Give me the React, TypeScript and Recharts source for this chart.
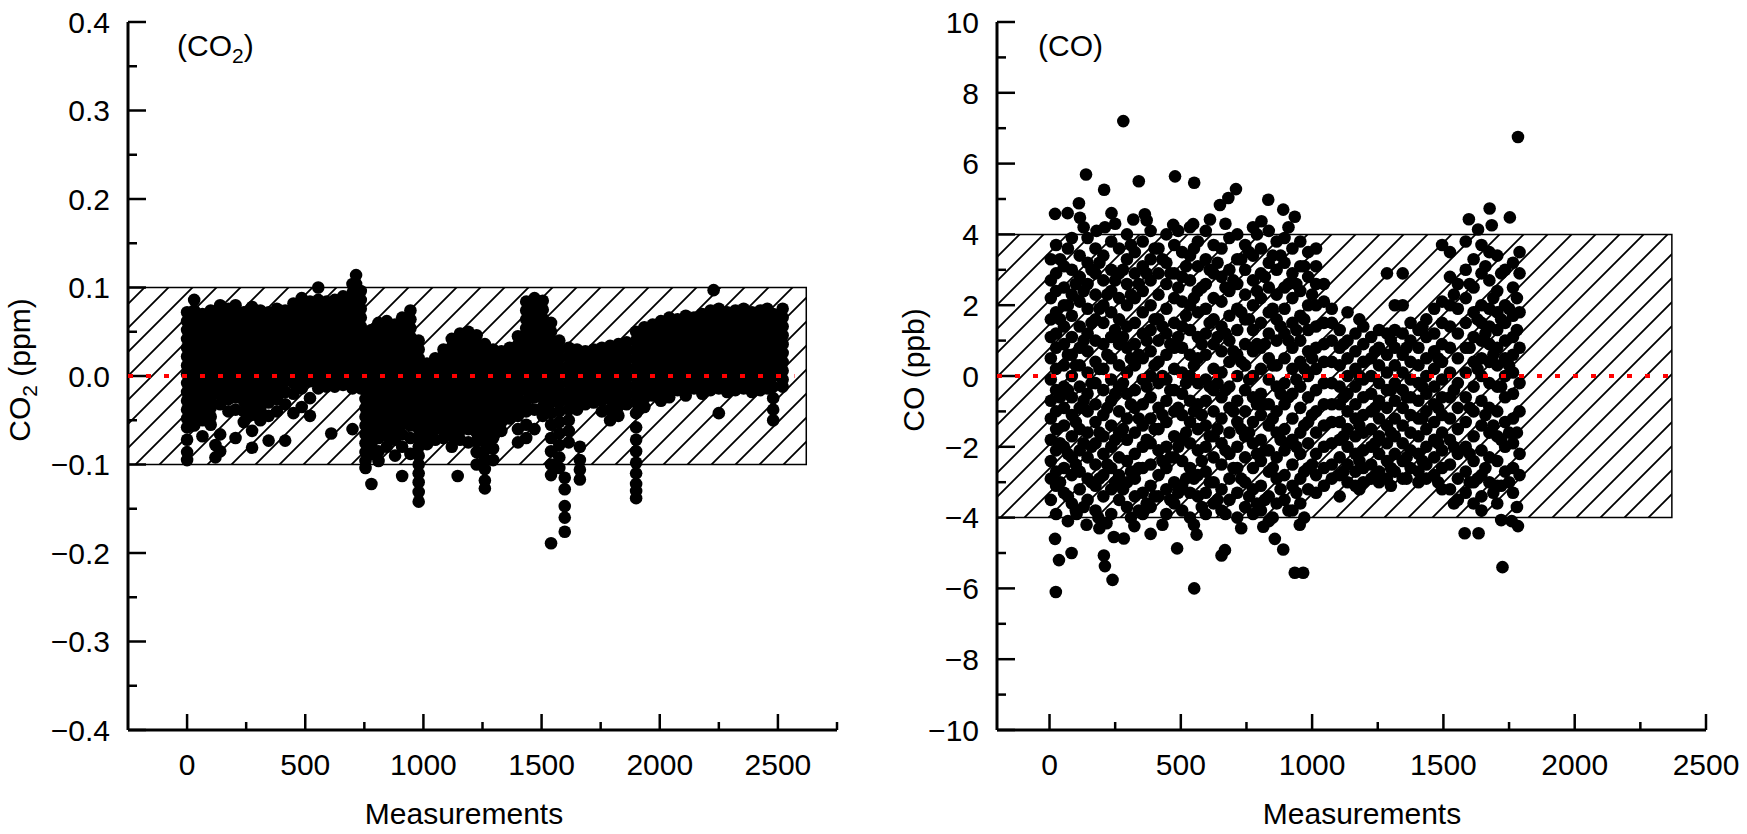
import React from 'react';
import { ScatterChart, Scatter, XAxis, YAxis, ReferenceArea } from 'recharts';

const FONT = '"Liberation Sans", Arial, Helvetica, sans-serif';
const FS = 30;

// CO2 panel: [measurement, deviations in 0.001 ppm]
const co2Columns: [number, number[]][] = [
  [0, [72, 62, 52, 42, 32, 22, 12, 2, -8, -18, -28, -38, -48, -58, -72, -86, -95]],
  [30, [86, 74, 64, 54, 44, 34, 24, 14, 4, -6, -16, -26, -36, -46, -56]],
  [65, [70, 60, 50, 40, 30, 20, 10, 0, -10, -20, -30, -40, -50, -68]],
  [100, [74, 64, 54, 44, 34, 24, 14, 4, -6, -16, -26, -36, -46, -55]],
  [120, [-78, -92]],
  [140, [80, 70, 60, 50, 40, 30, 20, 10, 0, -10, -20, -32, -66, -85]],
  [175, [76, 66, 56, 46, 36, 26, 16, 6, -4, -14, -26, -40]],
  [205, [80, 70, 60, 50, 40, 30, 20, 10, 0, -12, -24, -38, -70]],
  [240, [72, 62, 52, 42, 32, 22, 12, 2, -8, -18, -28, -40, -52]],
  [275, [78, 68, 58, 48, 38, 28, 18, 8, -2, -12, -22, -32, -44, -62, -81]],
  [310, [74, 64, 54, 44, 34, 24, 14, 4, -6, -16, -26, -38, -50]],
  [345, [72, 62, 52, 42, 32, 22, 12, 2, -8, -18, -30, -45, -73]],
  [380, [76, 66, 56, 46, 36, 26, 16, 6, -4, -14, -26, -40]],
  [415, [74, 64, 54, 44, 34, 24, 14, 4, -6, -18, -32, -73]],
  [450, [82, 72, 62, 52, 42, 32, 22, 12, 2, -8, -20, -42]],
  [485, [88, 78, 68, 58, 48, 38, 28, 18, 8, -2, -14, -35]],
  [520, [84, 74, 64, 54, 44, 34, 24, 14, 4, -6, -25, -45]],
  [555, [100, 86, 76, 66, 56, 46, 36, 26, 16, 6, -4, -14]],
  [590, [84, 74, 64, 54, 44, 34, 24, 14, 4, -6, -12]],
  [610, [-65]],
  [625, [86, 76, 66, 56, 46, 36, 26, 16, 6, -4, -12]],
  [660, [90, 80, 70, 60, 50, 40, 30, 20, 10, 0, -10]],
  [700, [104, 94, 84, 74, 64, 54, 44, 34, 24, 14, 4, -6, -14, -60]],
  [715, [114, 104, 94, 84, 74, 64, 54, 44, 34, 24, 14, 4, -8]],
  [735, [96, 86, 76, 66, 56, 46, 36, 26, 16, 6, -4, -14]],
  [755, [44, 34, 24, 14, 4, -6, -16, -26, -36, -46, -56, -66, -76, -86, -96, -104]],
  [780, [52, 42, 32, 22, 12, 2, -8, -18, -28, -38, -48, -58, -68, -78, -88, -122]],
  [810, [60, 50, 40, 30, 20, 10, 0, -10, -20, -30, -40, -50, -60, -70, -85, -96]],
  [845, [62, 52, 42, 32, 22, 12, 2, -8, -18, -28, -38, -48, -58, -68, -80]],
  [880, [58, 48, 38, 28, 18, 8, -2, -12, -22, -32, -42, -52, -62, -72, -90]],
  [910, [66, 56, 46, 36, 26, 16, 6, -4, -14, -24, -34, -44, -54, -66, -80, -113]],
  [945, [74, 64, 54, 44, 34, 24, 14, 4, -6, -16, -26, -36, -46, -56, -70, -88]],
  [980, [40, 30, 20, 10, 0, -10, -20, -30, -40, -50, -60, -70, -80, -90, -100, -110, -120, -131, -142]],
  [1015, [14, 4, -6, -16, -26, -36, -46, -56, -66, -77]],
  [1050, [20, 10, 0, -10, -20, -30, -40, -50, -60, -72]],
  [1085, [30, 20, 10, 0, -10, -20, -30, -40, -50, -60, -70]],
  [1120, [42, 32, 22, 12, 2, -8, -18, -28, -38, -48, -58, -68, -80]],
  [1145, [-113]],
  [1155, [48, 38, 28, 18, 8, -2, -12, -22, -32, -42, -52, -62, -72]],
  [1190, [50, 40, 30, 20, 10, 0, -10, -20, -30, -40, -50, -60, -75]],
  [1225, [46, 36, 26, 16, 6, -4, -14, -24, -34, -44, -54, -64, -74, -86, -100]],
  [1260, [36, 26, 16, 6, -4, -14, -24, -34, -44, -54, -64, -74, -84, -94, -105, -118, -127]],
  [1295, [30, 20, 10, 0, -10, -20, -30, -40, -50, -60, -70, -82, -95]],
  [1330, [28, 18, 8, -2, -12, -22, -32, -42, -52, -62]],
  [1365, [32, 22, 12, 2, -8, -18, -28, -38, -48]],
  [1400, [45, 35, 25, 15, 5, -5, -15, -25, -35, -45, -60, -75]],
  [1435, [84, 74, 64, 54, 44, 34, 24, 14, 4, -6, -16, -28, -40, -55, -70]],
  [1470, [88, 78, 68, 58, 48, 38, 28, 18, 8, -2, -12, -24, -38, -60]],
  [1505, [85, 75, 65, 55, 45, 35, 25, 15, 5, -5, -15, -25, -35, -45]],
  [1540, [60, 50, 40, 30, 20, 10, 0, -10, -20, -30, -42, -55, -70, -85, -100, -112, -189]],
  [1575, [40, 30, 20, 10, 0, -10, -20, -30, -40, -52, -65, -78, -92, -104]],
  [1598, [-115, -128, -147, -160, -176]],
  [1615, [32, 22, 12, 2, -8, -18, -28, -38, -50, -62, -75]],
  [1650, [30, 20, 10, 0, -10, -20, -30, -38]],
  [1662, [-80, -95, -106, -117]],
  [1685, [28, 18, 8, -2, -12, -22, -32]],
  [1720, [30, 20, 10, 0, -10, -20, -30]],
  [1755, [32, 22, 12, 2, -8, -18, -28, -40]],
  [1790, [34, 24, 14, 4, -6, -16, -26, -38, -50]],
  [1825, [36, 26, 16, 6, -4, -14, -24, -34, -45]],
  [1860, [38, 28, 18, 8, -2, -12, -22, -32]],
  [1900, [50, 40, 30, 20, 10, 0, -10, -20, -30, -42, -58, -72, -85, -98, -110, -122, -130, -138]],
  [1935, [55, 45, 35, 25, 15, 5, -5, -15, -25, -35]],
  [1970, [58, 48, 38, 28, 18, 8, -2, -12, -22]],
  [2005, [62, 52, 42, 32, 22, 12, 2, -8, -18, -28]],
  [2040, [66, 56, 46, 36, 26, 16, 6, -4, -14, -24]],
  [2075, [64, 54, 44, 34, 24, 14, 4, -6, -16]],
  [2110, [68, 58, 48, 38, 28, 18, 8, -2, -12, -22]],
  [2145, [66, 56, 46, 36, 26, 16, 6, -4, -14]],
  [2180, [70, 60, 50, 40, 30, 20, 10, 0, -10, -20]],
  [2215, [74, 64, 54, 44, 34, 24, 14, 4, -6, -16]],
  [2228, [97]],
  [2250, [76, 66, 56, 46, 36, 26, 16, 6, -4, -14, -42]],
  [2285, [72, 62, 52, 42, 32, 22, 12, 2, -8, -18]],
  [2320, [74, 64, 54, 44, 34, 24, 14, 4, -6, -16]],
  [2355, [76, 66, 56, 46, 36, 26, 16, 6, -4, -14]],
  [2390, [72, 62, 52, 42, 32, 22, 12, 2, -8, -18]],
  [2425, [74, 64, 54, 44, 34, 24, 14, 4, -6, -16]],
  [2455, [76, 66, 56, 46, 36, 26, 16, 6, -4, -14]],
  [2480, [70, 60, 50, 40, 30, 20, 10, 0, -12, -25, -38, -50]],
  [2520, [76, 66, 56, 46, 36, 26, 16, 6, -4, -12]],
];

// CO panel: [measurement, deviations in ppb]
const coColumns: [number, number[]][] = [
  [5, [3.3, 2.7, 2.2, 1.6, 1.1, 0.5, -0.1, -0.7, -1.2, -1.8, -2.4, -2.9, -3.5]],
  [25, [3.7, 2.9, 2.4, 1.8, 1.2, 0.8, 0.2, -0.4, -1.0, -1.5, -2.1, -2.7, -3.1, -3.9]],
  [40, [3.3, 1.6, -0.6, -1.9, -3.0]],
  [55, [3.1, 2.5, 2.0, 1.4, 0.9, 0.3, -0.3, -0.9, -1.4, -2.0, -2.6, -3.3]],
  [70, [3.6, 2.0, 0.6, -0.4, -2.2, -3.4, -4.1]],
  [85, [3.9, 3.0, 2.3, 1.7, 1.1, 0.6, 0.0, -0.6, -1.1, -1.7, -2.3, -2.8, -3.6]],
  [100, [2.6, 0.3, -1.3, -2.5, -3.8]],
  [115, [3.4, 2.8, 2.1, 1.4, 0.8, 0.3, -0.3, -0.9, -1.5, -2.1, -2.7, -3.2]],
  [130, [4.2, 2.4, 1.0, -0.7, -1.9, -3.7]],
  [145, [3.9, 3.2, 2.6, 1.9, 1.2, 0.7, 0.1, -0.5, -1.0, -1.6, -2.3, -2.9, -3.5]],
  [160, [3.0, 1.5, -0.2, -2.0, -3.0]],
  [175, [3.6, 2.9, 2.3, 1.6, 1.0, 0.4, -0.2, -0.8, -1.3, -1.9, -2.5, -3.1, -3.8]],
  [190, [3.2, 1.9, 0.2, -1.6, -2.9, -4.3]],
  [205, [3.4, 2.7, 2.0, 1.5, 0.9, 0.2, -0.4, -1.1, -1.7, -2.2, -2.8, -3.4]],
  [220, [2.3, 0.6, -0.9, -2.5]],
  [235, [3.8, 3.0, 2.4, 1.8, 1.1, 0.5, -0.1, -0.7, -1.4, -2.0, -2.6, -3.2, -3.9]],
  [250, [4.3, 2.7, 1.3, -0.5, -1.8, -3.0]],
  [265, [3.6, 2.9, 2.2, 1.6, 0.9, 0.3, -0.3, -1.0, -1.6, -2.3, -2.8, -3.5]],
  [280, [3.0, 1.1, -0.2, -1.5, -3.2]],
  [295, [4.0, 3.3, 2.6, 2.0, 1.4, 0.8, 0.1, -0.5, -1.2, -1.8, -2.4, -3.0, -3.7]],
  [310, [3.7, 2.3, 0.5, -0.8, -2.7, -4.0]],
  [325, [3.5, 2.9, 2.2, 1.5, 0.9, 0.3, -0.4, -0.9, -1.6, -2.2, -2.9, -3.4]],
  [340, [2.6, 0.6, -1.2, -2.6, -3.8]],
  [355, [3.8, 3.1, 2.4, 1.8, 1.2, 0.5, -0.1, -0.8, -1.4, -2.0, -2.6, -3.3, -3.9]],
  [370, [4.4, 2.9, 1.0, -0.3, -1.8, -3.6]],
  [385, [4.1, 3.3, 2.7, 2.0, 1.3, 0.7, 0.0, -0.6, -1.2, -1.9, -2.5, -3.1, -3.7]],
  [400, [3.6, 1.6, 0.3, -1.5, -3.4]],
  [415, [3.6, 2.9, 2.3, 1.6, 1.0, 0.4, -0.2, -0.9, -1.5, -2.1, -2.8, -3.4]],
  [430, [3.3, 1.4, 0.0, -1.1, -2.4, -4.2]],
  [445, [4.0, 3.2, 2.6, 1.9, 1.2, 0.6, -0.1, -0.7, -1.3, -2.0, -2.6, -3.2, -3.9]],
  [460, [2.9, 0.9, -0.4, -2.3, -3.5]],
  [475, [3.7, 2.9, 2.2, 1.5, 0.8, 0.2, -0.4, -1.0, -1.7, -2.3, -3.0, -3.6]],
  [490, [4.1, 2.5, 1.1, -0.9, -2.0, -3.3]],
  [505, [3.5, 2.8, 2.1, 1.4, 0.8, 0.1, -0.5, -1.1, -1.8, -2.4, -3.1, -3.8]],
  [520, [3.1, 1.7, -0.2, -1.6, -2.9]],
  [535, [4.2, 3.4, 2.7, 2.0, 1.3, 0.6, 0.0, -0.7, -1.3, -1.9, -2.6, -3.3, -4.0]],
  [550, [3.6, 2.2, 0.3, -1.0, -2.9, -4.2]],
  [565, [3.8, 3.1, 2.4, 1.8, 1.1, 0.5, -0.2, -0.8, -1.5, -2.1, -2.8, -3.4]],
  [580, [2.5, 0.9, -1.1, -2.4, -3.7]],
  [595, [4.1, 3.3, 2.6, 1.9, 1.2, 0.6, -0.1, -0.7, -1.4, -2.0, -2.7, -3.3, -3.9]],
  [610, [3.0, 1.5, -0.3, -1.7, -3.0]],
  [625, [3.7, 2.9, 2.2, 1.6, 0.9, 0.2, -0.4, -1.0, -1.7, -2.3, -3.0, -3.6]],
  [640, [3.2, 1.1, -0.2, -1.5, -3.5]],
  [655, [3.6, 2.8, 2.1, 1.4, 0.7, 0.1, -0.6, -1.2, -1.9, -2.5, -3.2, -3.8]],
  [670, [4.3, 2.5, 1.2, -0.4, -2.1, -3.9]],
  [685, [3.9, 3.0, 2.4, 1.7, 1.0, 0.4, -0.3, -0.9, -1.6, -2.2, -2.9, -3.5]],
  [700, [2.7, 0.7, -1.0, -2.6]],
  [715, [4.0, 3.3, 2.6, 1.9, 1.3, 0.6, 0.0, -0.7, -1.3, -2.0, -2.6, -3.3, -4.0]],
  [730, [3.3, 1.8, 0.4, -1.5, -2.9, -4.3]],
  [745, [3.7, 3.0, 2.3, 1.6, 0.9, 0.3, -0.4, -1.0, -1.7, -2.3, -3.0, -3.7]],
  [760, [3.5, 1.6, -0.1, -1.6, -3.4]],
  [775, [4.2, 3.4, 2.7, 2.0, 1.3, 0.7, 0.0, -0.6, -1.3, -1.9, -2.6, -3.2, -3.9]],
  [790, [4.0, 2.4, 0.9, -0.8, -2.2, -3.6]],
  [805, [3.6, 2.9, 2.2, 1.5, 0.8, 0.2, -0.5, -1.1, -1.8, -2.4, -3.1, -3.8]],
  [820, [2.8, 0.9, -0.8, -2.1, -3.5]],
  [835, [4.1, 3.2, 2.5, 1.8, 1.2, 0.5, -0.1, -0.8, -1.4, -2.1, -2.7, -3.4, -4.1]],
  [850, [3.4, 1.9, 0.3, -1.2, -2.6, -4.0]],
  [865, [3.8, 3.0, 2.3, 1.6, 1.0, 0.3, -0.3, -1.0, -1.6, -2.3, -2.9, -3.6]],
  [880, [3.4, 1.4, -0.5, -1.8, -3.2]],
  [895, [3.9, 3.2, 2.5, 1.9, 1.2, 0.5, -0.2, -0.8, -1.5, -2.1, -2.8, -3.5]],
  [910, [4.2, 2.6, 1.0, -0.6, -1.9, -3.8]],
  [925, [3.6, 2.9, 2.2, 1.5, 0.8, 0.2, -0.5, -1.2, -1.8, -2.5, -3.1, -3.8]],
  [940, [2.6, 1.3, -0.1, -2.0, -3.3]],
  [955, [3.8, 3.1, 2.4, 1.7, 1.0, 0.4, -0.3, -0.9, -1.6, -2.2, -2.9, -3.6]],
  [970, [3.1, 1.6, 0.2, -1.4, -2.7, -4.0]],
  [985, [3.5, 2.8, 2.0, 1.3, 0.7, 0.0, -0.6, -1.3, -1.9, -2.6, -3.2]],
  [1000, [2.3, 0.5, -1.1, -2.5]],
  [1015, [3.6, 3.1, 2.6, 2.0, 1.4, 0.8, 0.2, -0.4, -1.0, -1.6, -2.2, -2.8, -3.3]],
  [1045, [2.6, 2.1, 1.5, 0.9, 0.4, -0.2, -0.8, -1.4, -2.0, -2.6, -3.1]],
  [1075, [1.9, 1.5, 1.0, 0.4, -0.2, -0.8, -1.3, -1.9, -2.5, -2.9]],
  [1105, [1.3, 0.8, 0.3, -0.3, -0.8, -1.3, -1.8, -2.3, -2.8, -3.4]],
  [1120, [0.9, -0.6, -1.7, -2.7]],
  [1135, [1.8, 1.0, 0.5, 0.0, -0.5, -1.0, -1.5, -2.0, -2.5, -3.0]],
  [1165, [1.2, 0.7, 0.2, -0.3, -0.8, -1.2, -1.7, -2.2, -2.7, -3.1]],
  [1180, [1.6, 0.0, -1.4, -2.4, -3.2]],
  [1195, [1.4, 0.9, 0.4, -0.1, -0.6, -1.1, -1.6, -2.1, -2.6, -3.0]],
  [1225, [1.1, 0.5, 0.0, -0.5, -1.0, -1.5, -2.0, -2.5, -2.9]],
  [1240, [0.7, -0.9, -1.9, -2.8]],
  [1255, [1.3, 0.8, 0.3, -0.2, -0.7, -1.2, -1.7, -2.2, -2.7, -3.0]],
  [1285, [2.9, 1.2, 0.6, 0.1, -0.4, -0.9, -1.4, -1.9, -2.4, -2.9]],
  [1300, [1.0, -0.4, -1.6, -2.6, -3.1]],
  [1315, [2.0, 1.3, 0.8, 0.3, -0.2, -0.7, -1.2, -1.7, -2.2, -2.7]],
  [1345, [2.9, 2.0, 1.2, 0.6, 0.1, -0.4, -0.9, -1.4, -1.9, -2.4, -2.9]],
  [1360, [0.8, -0.6, -2.3, -2.9]],
  [1375, [1.5, 1.0, 0.4, -0.1, -0.6, -1.1, -1.6, -2.1, -2.6]],
  [1405, [1.3, 0.8, 0.3, -0.2, -0.7, -1.2, -1.7, -2.2, -2.7, -3.0]],
  [1420, [1.4, -0.3, -1.2, -2.4]],
  [1435, [1.6, 1.1, 0.5, 0.0, -0.5, -1.0, -1.5, -2.0, -2.5, -2.9]],
  [1465, [1.9, 1.2, 0.7, 0.2, -0.3, -0.8, -1.3, -1.8, -2.3, -2.8]],
  [1480, [0.5, -0.9, -1.9, -3.0]],
  [1495, [3.7, 2.1, 1.5, 0.9, 0.4, -0.1, -0.6, -1.1, -1.6, -2.1, -2.6, -3.2]],
  [1525, [3.5, 2.8, 2.0, 1.4, 0.8, 0.1, -0.6, -1.2, -1.8, -2.5, -3.2]],
  [1540, [2.3, -0.4, -2.0, -3.6]],
  [1555, [2.6, 1.9, 1.2, 0.5, -0.2, -0.9, -1.5, -2.2, -2.9, -3.5]],
  [1585, [3.8, 3.0, 2.2, 1.5, 0.8, 0.1, -0.6, -1.3, -2.0, -2.7, -3.3]],
  [1600, [2.6, 0.8, -0.9, -2.2, -3.0]],
  [1615, [3.3, 2.5, 1.8, 1.1, 0.4, -0.3, -1.0, -1.7, -2.4, -3.0, -3.6]],
  [1630, [1.6, 0.2, -2.9]],
  [1645, [3.7, 2.9, 2.0, 1.5, 1.0, 0.5, 0.0, -0.7, -1.4, -2.1, -2.8, -3.4, -3.8]],
  [1660, [3.1, 1.2, -1.1, -2.6]],
  [1675, [3.5, 2.7, 1.9, 1.4, 0.9, 0.4, -0.2, -0.9, -1.6, -2.3, -3.0]],
  [1690, [2.2, 0.6, -1.4, -3.3]],
  [1705, [3.4, 2.4, 1.8, 1.3, 0.8, 0.3, -0.3, -1.0, -1.7, -2.4, -3.1, -3.6]],
  [1720, [2.9, 1.6, -0.3, -1.8, -3.1]],
  [1735, [3.0, 2.0, 1.5, 1.0, 0.5, 0.0, -0.6, -1.3, -2.0, -2.7]],
  [1750, [1.9, 0.3, -1.6, -3.0]],
  [1765, [3.2, 2.5, 1.7, 1.1, 0.6, 0.1, -0.5, -1.2, -1.9, -2.6, -3.3]],
  [1780, [2.2, 1.3, -1.6, -3.7]],
  [1790, [3.5, 2.9, 1.8, 0.8, -0.2, -1.0, -2.2, -2.8]],
];

// CO points lying outside the dense cloud
const coOutliers: [number, number][] = [
  [21, 4.58], [69, 4.6], [112, 4.88], [116, 4.47], [139, 5.69], [179, 4.1], [208, 5.26], [211, 4.2],
  [236, 4.6], [281, 7.2], [319, 4.42], [340, 5.5], [363, 4.57], [471, 4.27], [478, 5.64], [547, 4.29],
  [551, 5.46], [611, 4.42], [649, 4.83], [681, 5.03], [710, 5.28], [807, 4.37], [833, 4.98], [890, 4.7],
  [934, 4.5], [1597, 4.43], [1632, 4.14], [1676, 4.73], [1684, 4.26], [1753, 4.48], [1784, 6.75],
  [21, -4.6], [24, -6.1], [36, -5.2], [84, -5.0], [103, -3.9], [141, -4.2], [186, -4.0], [207, -5.07],
  [211, -5.37], [217, -4.16], [240, -5.76], [245, -4.55], [283, -4.59], [323, -4.24], [385, -4.46],
  [486, -4.87], [551, -6.0], [560, -4.48], [655, -5.07], [668, -4.92], [814, -4.26], [858, -4.6],
  [890, -4.9], [934, -5.56], [966, -5.56], [953, -4.2], [1581, -4.44], [1634, -4.44], [1725, -5.4],
  [1720, -4.07], [1760, -4.1], [1784, -4.24],
];

const co2XTicks = [0, 250, 500, 750, 1000, 1250, 1500, 1750, 2000, 2250, 2500, 2750];
const coXTicks = [0, 250, 500, 750, 1000, 1250, 1500, 1750, 2000, 2250, 2500];
const co2YTicks = [-0.4, -0.35, -0.3, -0.25, -0.2, -0.15, -0.1, -0.05, 0, 0.05, 0.1, 0.15, 0.2, 0.25, 0.3, 0.35, 0.4];
const coYTicks = [-10, -9, -8, -7, -6, -5, -4, -3, -2, -1, 0, 1, 2, 3, 4, 5, 6, 7, 8, 9, 10];

const co2Limit = 0.1;
const coLimit = 4;
const co2BoxEnd = 2620;
const coBoxEnd = 2370;
const co2ZeroEnd = 2570;
const coZeroEnd = 2357;

const co2Points = co2Columns.flatMap(([x, ys]) => ys.map((v) => ({ x, y: v / 1000 })));
const coPoints = [
  ...coColumns.flatMap(([x, ys]) => ys.map((y) => ({ x, y }))),
  ...coOutliers.map(([x, y]) => ({ x, y })),
];

const minus = (s: string) => s.replace('-', '\u2212');
const fmtCo2 = (v: number) => minus(v.toFixed(1));
const fmtCo = (v: number) => minus(String(v));

const isMajor = (v: number, step: number) => Math.abs(v / step - Math.round(v / step)) < 1e-6;

const YTick = ({ x, y, payload, step, fmt }: any) => {
  const major = isMajor(payload.value, step);
  return (
    <g>
      <line x1={x} y1={y} x2={x + (major ? 18 : 9)} y2={y} stroke="#000" strokeWidth={2.5} />
      {major && (
        <text x={x - 18} y={y} dy="0.36em" textAnchor="end" fontFamily={FONT} fontSize={FS} fill="#000">
          {fmt(payload.value)}
        </text>
      )}
    </g>
  );
};

const XTick = ({ x, y, payload }: any) => {
  const major = isMajor(payload.value, 500);
  return (
    <g>
      <line x1={x} y1={y} x2={x} y2={y - (major ? 16 : 8)} stroke="#000" strokeWidth={2.5} />
      {major && (
        <text x={x} y={y + 45} textAnchor="middle" fontFamily={FONT} fontSize={FS} fill="#000">
          {payload.value}
        </text>
      )}
    </g>
  );
};

const Dot = (p: any) => <circle cx={p.cx} cy={p.cy} r={6.3} fill="#000" />;
const NoDot = () => <g />;

// top = true draws only the red zero line, on a transparent chart laid over the points
const Panel = ({ top, points, xDomain, xTicks, yDomain, yTicks, yStep, fmt, limit, boxEnd, zeroEnd, width, marginLeft, marginRight }: any) => (
  <ScatterChart width={width} height={834} margin={{ top: 22, right: marginRight, bottom: 44, left: marginLeft }}>
    <XAxis
      type="number"
      dataKey="x"
      domain={xDomain}
      ticks={xTicks}
      interval={0}
      height={60}
      tickSize={0}
      tickMargin={0}
      tickLine={false}
      axisLine={top ? false : { stroke: '#000', strokeWidth: 3 }}
      tick={top ? false : (p: any) => <XTick {...p} />}
    />
    <YAxis
      type="number"
      dataKey="y"
      domain={yDomain}
      ticks={yTicks}
      interval={0}
      width={100}
      tickSize={0}
      tickMargin={0}
      tickLine={false}
      axisLine={top ? false : { stroke: '#000', strokeWidth: 3 }}
      tick={top ? false : (p: any) => <YTick {...p} step={yStep} fmt={fmt} />}
    />
    {!top && (
      <ReferenceArea
        x1={xDomain[0]}
        x2={boxEnd}
        y1={-limit}
        y2={limit}
        fill="url(#hatch)"
        fillOpacity={1}
        stroke="#000"
        strokeWidth={1.5}
        ifOverflow="visible"
      />
    )}
    {!top && <Scatter data={points} shape={Dot} isAnimationActive={false} />}
    {top && (
      <Scatter
        data={[{ x: xDomain[0], y: 0 }, { x: zeroEnd, y: 0 }]}
        line={{ stroke: '#ff0000', strokeWidth: 4, strokeDasharray: '5 13' }}
        shape={NoDot}
        isAnimationActive={false}
      />
    )}
  </ScatterChart>
);

const co2Props = {
  points: co2Points, xDomain: [-250, 2750], xTicks: co2XTicks, yDomain: [-0.4, 0.4], yTicks: co2YTicks,
  yStep: 0.1, fmt: fmtCo2, limit: co2Limit, boxEnd: co2BoxEnd, zeroEnd: co2ZeroEnd,
  width: 870, marginLeft: 28, marginRight: 33,
};
const coProps = {
  points: coPoints, xDomain: [-200, 2500], xTicks: coXTicks, yDomain: [-10, 10], yTicks: coYTicks,
  yStep: 2, fmt: fmtCo, limit: coLimit, boxEnd: coBoxEnd, zeroEnd: coZeroEnd,
  width: 877, marginLeft: 27, marginRight: 41,
};

const txt = { fontFamily: FONT, fontSize: FS, fill: '#000' };
const layer = (left: number, z: number): React.CSSProperties => ({ position: 'absolute', left, top: 0, zIndex: z });

export default function App() {
  return (
    <div style={{ position: 'relative', width: 1747, height: 834, background: '#fff', overflow: 'hidden' }}>
      <style>{'body{margin:0}'}</style>
      <svg width={0} height={0} style={{ position: 'absolute' }}>
        <defs>
          <pattern id="hatch" patternUnits="userSpaceOnUse" width={24} height={24}>
            <path d="M-6,6 L6,-6 M0,24 L24,0 M18,30 L30,18" stroke="#000" strokeWidth={1.8} />
          </pattern>
        </defs>
      </svg>
      <div style={layer(0, 1)}><Panel {...co2Props} /></div>
      <div style={layer(870, 1)}><Panel {...coProps} /></div>
      <div style={layer(0, 2)}><Panel top {...co2Props} /></div>
      <div style={layer(870, 2)}><Panel top {...coProps} /></div>
      <svg width={1747} height={834} style={{ position: 'absolute', left: 0, top: 0, zIndex: 3, pointerEvents: 'none' }}>
        <text x={177} y={56} {...txt}>
          (CO<tspan dy={7} fontSize={21}>2</tspan><tspan dy={-7}>)</tspan>
        </text>
        <text x={1038} y={56} {...txt}>(CO)</text>
        <text transform="translate(30,370) rotate(-90)" textAnchor="middle" {...txt}>
          CO<tspan dy={7} fontSize={21}>2</tspan><tspan dy={-7}> (ppm)</tspan>
        </text>
        <text transform="translate(924,370) rotate(-90)" textAnchor="middle" {...txt}>CO (ppb)</text>
        <text x={464} y={824} textAnchor="middle" {...txt}>Measurements</text>
        <text x={1362} y={824} textAnchor="middle" {...txt}>Measurements</text>
      </svg>
    </div>
  );
}
